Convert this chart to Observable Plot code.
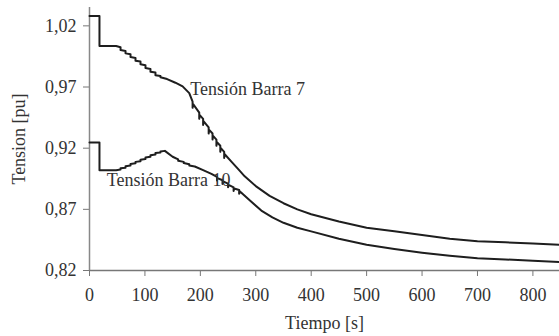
<!DOCTYPE html>
<html>
<head>
<meta charset="utf-8">
<script src="https://cdn.jsdelivr.net/npm/d3@7"></script>
<script src="https://cdn.jsdelivr.net/npm/@observablehq/plot@0.6"></script>
<style>
  html, body { margin: 0; padding: 0; background: #fff; }
  #chart svg { display: block; }
  #chart svg text { font-family: 'Times New Roman', Times, 'Liberation Serif', Tinos, 'DejaVu Serif', 'Noto Serif', serif !important; }
</style>
</head>
<body>
<div id="chart"></div>
<script>
// Tensión Barra 7 (time [s], voltage [pu])
const t7 = [0, 18, 18, 48,
  56, 56, 65, 65, 74, 74, 83, 83, 92, 92, 101, 101, 110, 110, 119, 119, 128, 128,
  140, 155, 168,
  180, 186, 186, 187, 198, 198, 199, 205, 205, 206, 215, 215, 216, 222, 222, 223, 229, 229, 230, 236, 236, 237, 243, 243, 244,
  256, 270, 280, 300, 325, 350, 375, 400, 450, 500, 550, 600, 650, 700, 750, 800, 848];
const v7 = [1.028, 1.028, 1.0035, 1.0035,
  1.0025, 1.0003, 0.9995, 0.9975, 0.9968, 0.9946, 0.9938, 0.9915, 0.9908, 0.9886, 0.9878, 0.9855, 0.9848, 0.9825, 0.9818, 0.9797, 0.979, 0.978,
  0.9765, 0.9735, 0.9705,
  0.965, 0.958, 0.953, 0.956, 0.949, 0.944, 0.947, 0.944, 0.939, 0.942, 0.937, 0.932, 0.935, 0.932, 0.927, 0.930, 0.927, 0.922, 0.925, 0.922, 0.917, 0.920, 0.917, 0.912, 0.915,
  0.909, 0.902, 0.897, 0.889, 0.881, 0.875, 0.870, 0.866, 0.860, 0.855, 0.852, 0.849, 0.846, 0.844, 0.843, 0.842, 0.841];

// Tensión Barra 10
const t10 = [0, 18, 18, 48,
  56, 56, 65, 65, 74, 74, 83, 83, 92, 92, 101, 101, 110, 110, 119, 119, 128, 128, 136,
  150, 160, 160, 170, 170, 180, 180, 190, 205, 220,
  230, 230, 231, 240, 240, 241, 250, 250, 251, 260, 260, 261, 270, 270, 271,
  290, 310, 330, 350, 375, 400, 450, 500, 550, 600, 650, 700, 750, 800, 848];
const v10 = [0.9246, 0.9246, 0.902, 0.902,
  0.9025, 0.9035, 0.904, 0.9052, 0.9058, 0.907, 0.9076, 0.9088, 0.9094, 0.9106, 0.9112, 0.9124, 0.913, 0.9142, 0.9148, 0.916, 0.9164, 0.9172, 0.9178,
  0.913, 0.9108, 0.9098, 0.9088, 0.9078, 0.9068, 0.9058, 0.905, 0.902, 0.899,
  0.8965, 0.8935, 0.8955, 0.8938, 0.8908, 0.8928, 0.891, 0.888, 0.890, 0.888, 0.885, 0.887, 0.8858, 0.8828, 0.8848,
  0.877, 0.869, 0.8635, 0.859, 0.855, 0.852, 0.846, 0.841, 0.8375, 0.8345, 0.832, 0.830, 0.829, 0.828, 0.827];

const labelText = ["Tensión Barra 7", "Tensión Barra 10"];
const labelT = [182, 31];
const labelV = [0.968, 0.8934];

const xTicks = [0, 100, 200, 300, 400, 500, 600, 700, 800];
const yTicks = [0.82, 0.87, 0.92, 0.97, 1.02];

const rows7 = t7.map((t, i) => ({t, v: v7[i]}));
const rows10 = t10.map((t, i) => ({t, v: v10[i]}));
const labels = labelText.map((s, i) => ({s, t: labelT[i], v: labelV[i]}));

const fmt = d => d.toFixed(2).replace(".", ",");

const chart = Plot.plot({
  width: 559,
  height: 336,
  marginLeft: 89,
  marginRight: 0,
  marginTop: 7,
  marginBottom: 66,
  style: {fontSize: "18px", color: "#333", background: "#fff"},
  x: {domain: [0, 848]},
  y: {domain: [0.82, 1.035]},
  marks: [
    Plot.axisX({ticks: xTicks, tickSize: 6, tickPadding: 12, stroke: "#777", fill: "#333",
      fontSize: 18, label: "Tiempo [s]", labelAnchor: "center", labelArrow: "none", labelOffset: 58}),
    Plot.axisY({ticks: yTicks, tickSize: 6, tickPadding: 7, stroke: "#777", fill: "#333",
      fontSize: 18, tickFormat: fmt, label: "Tension [pu]", labelAnchor: "center", labelArrow: "none", labelOffset: 77}),
    Plot.ruleY([0.82], {stroke: "#777", strokeWidth: 1.5}),
    Plot.ruleX([0], {stroke: "#888", strokeWidth: 1.5}),
    Plot.line(rows7, {x: "t", y: "v", stroke: "#1e1e1e", strokeWidth: 2, curve: "linear"}),
    Plot.line(rows10, {x: "t", y: "v", stroke: "#1e1e1e", strokeWidth: 2, curve: "linear"}),
    Plot.text(labels, {x: "t", y: "v", text: "s", textAnchor: "start", fill: "#333", fontSize: 18})
  ]
});
document.getElementById("chart").appendChild(chart);
</script>
</body>
</html>
